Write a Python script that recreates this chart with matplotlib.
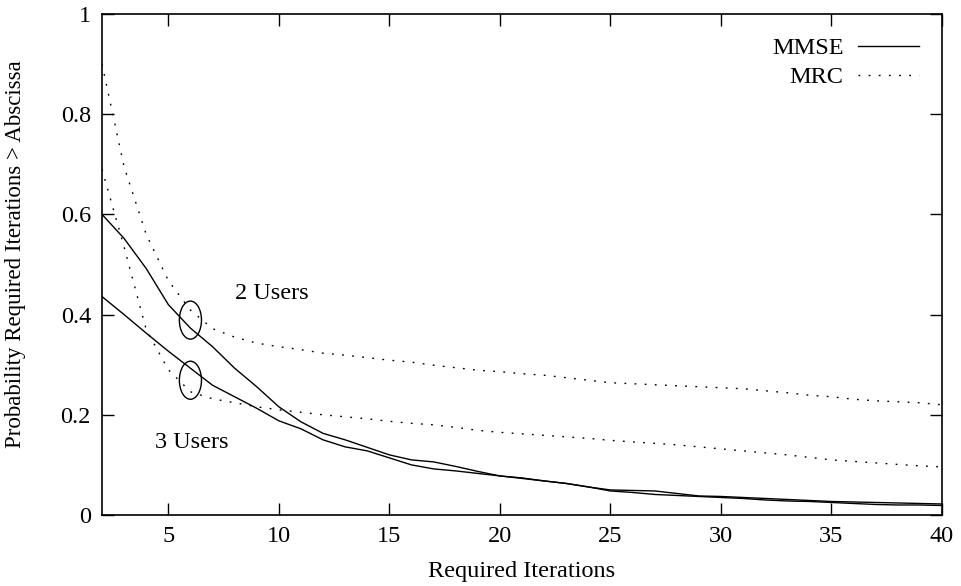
import matplotlib
matplotlib.use("Agg")
import matplotlib.pyplot as plt
from matplotlib.patches import Ellipse

plt.rcParams['font.family'] = ['Liberation Serif', 'DejaVu Serif']
plt.rcParams['font.size'] = 17.5

iterations = list(range(2, 41))

mmse_2users = [0.600, 0.552, 0.492, 0.420, 0.373, 0.336, 0.293, 0.256, 0.216, 0.186,
               0.163, 0.150, 0.135, 0.120, 0.110, 0.106, 0.097, 0.087, 0.078, 0.074,
               0.068, 0.063, 0.056, 0.050, 0.049, 0.048, 0.043, 0.038, 0.037, 0.035,
               0.033, 0.031, 0.029, 0.027, 0.026, 0.025, 0.024, 0.023, 0.022]
mmse_3users = [0.436, 0.400, 0.363, 0.327, 0.293, 0.259, 0.236, 0.213, 0.188, 0.172,
               0.150, 0.136, 0.128, 0.114, 0.100, 0.092, 0.088, 0.083, 0.078, 0.073,
               0.068, 0.063, 0.056, 0.048, 0.045, 0.041, 0.039, 0.037, 0.035, 0.033,
               0.030, 0.028, 0.027, 0.025, 0.023, 0.021, 0.020, 0.020, 0.019]
mrc_2users = [0.900, 0.695, 0.560, 0.468, 0.409, 0.372, 0.355, 0.343, 0.336, 0.330,
              0.323, 0.319, 0.314, 0.309, 0.305, 0.299, 0.294, 0.289, 0.286, 0.282,
              0.279, 0.274, 0.269, 0.264, 0.262, 0.260, 0.258, 0.256, 0.254, 0.252,
              0.248, 0.244, 0.239, 0.236, 0.231, 0.228, 0.226, 0.224, 0.220]
mrc_3users = [0.690, 0.535, 0.370, 0.290, 0.246, 0.232, 0.224, 0.216, 0.210, 0.205,
              0.200, 0.196, 0.192, 0.187, 0.183, 0.180, 0.175, 0.169, 0.165, 0.162,
              0.159, 0.156, 0.153, 0.149, 0.146, 0.143, 0.140, 0.136, 0.132, 0.128,
              0.124, 0.120, 0.115, 0.110, 0.107, 0.104, 0.101, 0.098, 0.096]

x_ticks = [5, 10, 15, 20, 25, 30, 35, 40]
y_ticks = [0, 0.2, 0.4, 0.6, 0.8, 1]
y_tick_labels = ["0", "0.2", "0.4", "0.6", "0.8", "1"]

fig = plt.figure(figsize=(9.61, 5.86), dpi=100)
ax = fig.add_axes([102 / 961, 1 - 515 / 586, 840 / 961, 501 / 586])

dotted = (0, (1.3, 6.0))
ax.plot(iterations, mmse_2users, color='black', lw=1.0, label='MMSE')
ax.plot(iterations, mrc_2users, color='black', lw=1.0, ls=dotted, label='MRC')
ax.plot(iterations, mmse_3users, color='black', lw=1.0)
ax.plot(iterations, mrc_3users, color='black', lw=1.0, ls=dotted)

# group markers around the curve pairs at 6 iterations
for yc in (0.389, 0.269):
    ax.add_patch(Ellipse((6.0, yc), 1.0, 0.076, fill=False, edgecolor='black', lw=1.0))

ax.text(8.0, 0.443, "2 Users", ha='left', va='center')
ax.text(4.4, 0.144, "3 Users", ha='left', va='center')

ax.set_xlim(2, 40)
ax.set_ylim(0, 1)
ax.set_xticks(x_ticks)
ax.set_yticks(y_ticks)
ax.set_yticklabels(y_tick_labels)
ax.tick_params(direction='in', length=8.5, width=1.0, top=True, right=True,
               labelsize=17.5, pad=8)
for s in ax.spines.values():
    s.set_linewidth(1.2)

ax.set_xlabel("Required Iterations", labelpad=10)
ax.set_ylabel("Probability Required Iterations > Abscissa", fontsize=16.5)
ax.yaxis.set_label_coords(-0.091, 0.52)

ax.legend(loc='upper right', markerfirst=False, frameon=False, handlelength=2.5,
          borderaxespad=0.55, labelspacing=0.3, handletextpad=0.6)

fig.savefig("out.png", dpi=100)
